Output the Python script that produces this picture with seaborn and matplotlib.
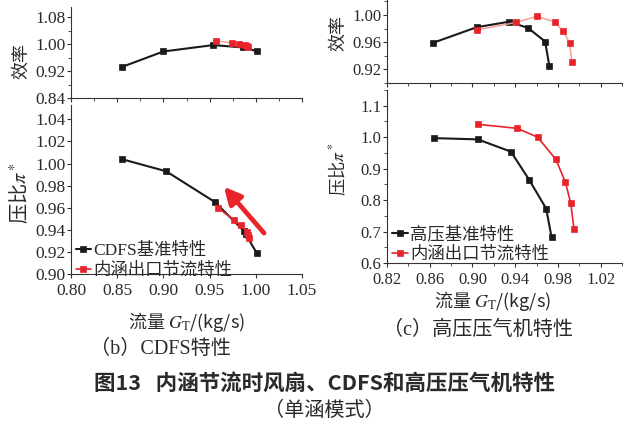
import matplotlib
matplotlib.use("Agg")
import matplotlib.pyplot as plt
from matplotlib.ticker import MultipleLocator, FixedLocator, FormatStrFormatter
import seaborn as sns

# ---------------- data ----------------
# (b) CDFS efficiency
cdfs_eff_base_x = [0.855, 0.900, 0.954, 0.986, 1.001]
cdfs_eff_base_y = [0.932, 0.978, 0.997, 0.990, 0.979]
cdfs_eff_thr_x = [0.957, 0.974, 0.982, 0.988, 0.991, 0.992]
cdfs_eff_thr_y = [1.010, 1.003, 1.000, 0.997, 0.994, 0.991]
# (b) CDFS pressure ratio
cdfs_pr_base_x = [0.855, 0.903, 0.956, 0.987, 0.989, 1.001]
cdfs_pr_base_y = [1.004, 0.993, 0.965, 0.939, 0.936, 0.919]
cdfs_pr_thr_x = [0.959, 0.976, 0.984, 0.991, 0.992, 0.993]
cdfs_pr_thr_y = [0.960, 0.949, 0.944, 0.938, 0.935, 0.933]
# (c) HPC efficiency
hpc_eff_base_x = [0.863, 0.904, 0.934, 0.952, 0.968, 0.972]
hpc_eff_base_y = [0.959, 0.982, 0.990, 0.981, 0.961, 0.925]
hpc_eff_thr_x = [0.904, 0.941, 0.960, 0.977, 0.985, 0.991, 0.993]
hpc_eff_thr_y = [0.978, 0.989, 0.998, 0.990, 0.976, 0.959, 0.931]
# (c) HPC pressure ratio
hpc_pr_base_x = [0.864, 0.905, 0.936, 0.953, 0.969, 0.974]
hpc_pr_base_y = [0.997, 0.993, 0.954, 0.865, 0.773, 0.683]
hpc_pr_thr_x = [0.905, 0.942, 0.961, 0.978, 0.987, 0.992, 0.995]
hpc_pr_thr_y = [1.041, 1.028, 1.000, 0.930, 0.857, 0.790, 0.709]

cdfs_eff_ticks = [0.84, 0.92, 1.00, 1.08]
cdfs_x_ticks = [0.80, 0.85, 0.90, 0.95, 1.00, 1.05]
hpc_x_ticks = [0.82, 0.86, 0.90, 0.94, 0.98, 1.02]

label_cdfs_base = "CDFS基准特性"
label_hpc_base = "高压基准特性"
label_thr = "内涵出口节流特性"

# ---------------- style ----------------
sns.set_style("ticks")
plt.rcParams["font.family"] = ["Liberation Serif", "Noto Sans CJK SC", "DejaVu Sans"]
plt.rcParams["mathtext.fontset"] = "stix"
plt.rcParams["axes.unicode_minus"] = False

TXT = "#2a2a2a"
BLACK = "#1a1a1a"
RED = "#e8232a"
LIGHTRED = "#f39a8a"
CJK = ["Noto Sans CJK SC", "DejaVu Sans"]

W, H = 635, 432
fig = plt.figure(figsize=(W / 100, H / 100), dpi=100)


def add_ax(x0, y0, x1, y1):
    return fig.add_axes([x0 / W, 1 - y1 / H, (x1 - x0) / W, (y1 - y0) / H])


ax_bt = add_ax(71, 7, 302, 98)
ax_bb = add_ax(71, 105, 302, 274)
ax_ct = add_ax(387, 0, 622, 83)
ax_cb = add_ax(387, 90, 622, 263)


def style(ax, fs, xpad=1):
    sns.despine(ax=ax)
    for s in ("left", "bottom"):
        ax.spines[s].set_linewidth(0.8)
        ax.spines[s].set_color("#333333")
    ax.tick_params(which="major", direction="out", length=3, width=0.8,
                   labelsize=fs, colors="#333333", labelcolor=TXT, pad=1)
    ax.tick_params(axis="x", which="major", pad=xpad)
    ax.tick_params(which="minor", direction="out", length=2, width=0.6,
                   colors="#333333")
    ax.set_facecolor("white")


def draw(ax, x, y, color, mcolor, lw, label=None):
    sns.lineplot(x=x, y=y, ax=ax, color=color, linewidth=lw, sort=False,
                 marker="s", markersize=4, markerfacecolor=mcolor,
                 markeredgecolor=mcolor, markeredgewidth=0.5,
                 label=label, legend=bool(label))


# (b) top - efficiency
draw(ax_bt, cdfs_eff_base_x, cdfs_eff_base_y, BLACK, BLACK, 1.5)
draw(ax_bt, cdfs_eff_thr_x, cdfs_eff_thr_y, LIGHTRED, RED, 1.0)
ax_bt.set_xlim(0.80, 1.05)
ax_bt.set_ylim(0.84, 1.11)
ax_bt.xaxis.set_major_locator(FixedLocator(cdfs_x_ticks))
ax_bt.xaxis.set_minor_locator(MultipleLocator(0.025))
ax_bt.yaxis.set_major_locator(FixedLocator(cdfs_eff_ticks))
ax_bt.yaxis.set_minor_locator(MultipleLocator(0.04))
ax_bt.yaxis.set_major_formatter(FormatStrFormatter("%.2f"))
ax_bt.set_xticklabels([])
style(ax_bt, 12.5)
ax_bt.set_ylabel("效率", fontsize=13, color=TXT, family=CJK)
ax_bt.yaxis.set_label_coords(-0.175, 0.41)

# (b) bottom - pressure ratio
draw(ax_bb, cdfs_pr_base_x, cdfs_pr_base_y, BLACK, BLACK, 1.5, label_cdfs_base)
draw(ax_bb, cdfs_pr_thr_x, cdfs_pr_thr_y, RED, RED, 1.2, label_thr)
ax_bb.set_xlim(0.80, 1.05)
ax_bb.set_ylim(0.90, 1.053)
ax_bb.xaxis.set_major_locator(FixedLocator(cdfs_x_ticks))
ax_bb.yaxis.set_major_locator(MultipleLocator(0.02))
ax_bb.xaxis.set_major_formatter(FormatStrFormatter("%.2f"))
ax_bb.yaxis.set_major_formatter(FormatStrFormatter("%.2f"))
style(ax_bb, 12.5, xpad=3.5)
ax_bb.set_ylabel("压比$\\pi^*$", fontsize=14.5, color=TXT, family=CJK)
ax_bb.yaxis.set_label_coords(-0.17, 0.48)
ax_bb.set_xlabel("流量 $G_{\\mathrm{T}}$/(kg/s)", fontsize=13, color=TXT, family=CJK)
ax_bb.xaxis.set_label_coords(0.5, -0.215)
ax_bb.annotate("", xy=(0.9655, 0.979), xytext=(1.009, 0.937),
               arrowprops=dict(arrowstyle="-|>,head_width=0.5,head_length=1.0",
                               color=RED, lw=3.4, shrinkA=0, shrinkB=0))
leg = ax_bb.legend(loc="lower left", bbox_to_anchor=(0.012, -0.04), frameon=False,
                   fontsize=12.5, handlelength=0.9, handletextpad=0.15,
                   labelspacing=0.22, borderaxespad=0.0, borderpad=0.1)
for t in leg.get_texts():
    t.set_color(TXT)

# (c) top - efficiency
draw(ax_ct, hpc_eff_base_x, hpc_eff_base_y, BLACK, BLACK, 1.5)
draw(ax_ct, hpc_eff_thr_x, hpc_eff_thr_y, LIGHTRED, RED, 1.0)
ax_ct.set_xlim(0.82, 1.04)
ax_ct.set_ylim(0.90, 1.022)
ax_ct.xaxis.set_major_locator(FixedLocator(hpc_x_ticks))
ax_ct.xaxis.set_minor_locator(MultipleLocator(0.02))
ax_ct.yaxis.set_major_locator(MultipleLocator(0.04))
ax_ct.yaxis.set_minor_locator(MultipleLocator(0.02))
ax_ct.yaxis.set_major_formatter(FormatStrFormatter("%.2f"))
ax_ct.set_xticklabels([])
style(ax_ct, 12)
ax_ct.set_ylabel("效率", fontsize=13, color=TXT, family=CJK)
ax_ct.yaxis.set_label_coords(-0.17, 0.6)

# (c) bottom - pressure ratio
draw(ax_cb, hpc_pr_base_x, hpc_pr_base_y, BLACK, BLACK, 1.5, label_hpc_base)
draw(ax_cb, hpc_pr_thr_x, hpc_pr_thr_y, RED, RED, 1.2, label_thr)
ax_cb.set_xlim(0.82, 1.04)
ax_cb.set_ylim(0.60, 1.15)
ax_cb.xaxis.set_major_locator(FixedLocator(hpc_x_ticks))
ax_cb.xaxis.set_minor_locator(MultipleLocator(0.02))
ax_cb.yaxis.set_major_locator(MultipleLocator(0.1))
ax_cb.yaxis.set_minor_locator(MultipleLocator(0.05))
ax_cb.xaxis.set_major_formatter(FormatStrFormatter("%.2f"))
ax_cb.yaxis.set_major_formatter(FormatStrFormatter("%.1f"))
style(ax_cb, 12, xpad=3.5)
ax_cb.set_ylabel("压比$\\pi^*$", fontsize=12.5, color=TXT, family=CJK)
ax_cb.yaxis.set_label_coords(-0.165, 0.54)
ax_cb.set_xlabel("流量 $G_{\\mathrm{T}}$/(kg/s)", fontsize=13, color=TXT, family=CJK)
ax_cb.xaxis.set_label_coords(0.45, -0.15)
leg2 = ax_cb.legend(loc="lower left", bbox_to_anchor=(0.015, -0.01), frameon=False,
                    fontsize=12.5, handlelength=0.9, handletextpad=0.15,
                    labelspacing=0.2, borderaxespad=0.0, borderpad=0.1)
for t in leg2.get_texts():
    t.set_color(TXT)

# captions
fig.text(160 / W, 1 - 349 / H, "（b）CDFS特性", ha="center", va="center",
         fontsize=14.5, color=TXT)
fig.text(478 / W, 1 - 330 / H, "（c）高压压气机特性", ha="center", va="center",
         fontsize=14.5, color=TXT)
fig.text(324 / W, 1 - 383 / H, "图13   内涵节流时风扇、CDFS和高压压气机特性",
         ha="center", va="center", fontsize=15.5, fontweight="bold", color=TXT,
         family=CJK)
fig.text(324 / W, 1 - 411 / H, "（单涵模式）", ha="center", va="center",
         fontsize=14.5, color=TXT)

fig.savefig("out.png", dpi=100, facecolor="white")
